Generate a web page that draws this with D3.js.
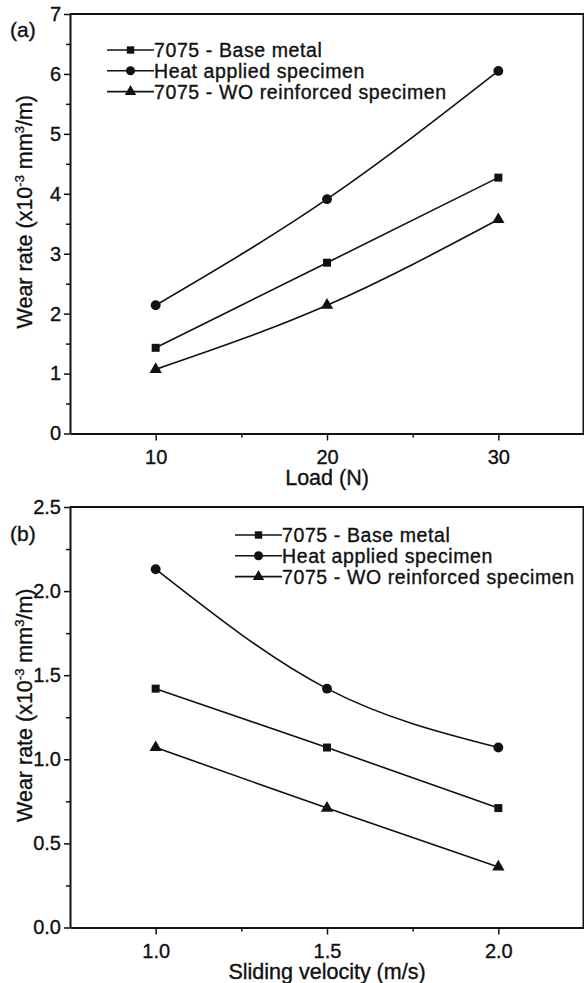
<!DOCTYPE html>
<html>
<head>
<meta charset="utf-8">
<script src="https://cdn.jsdelivr.net/npm/d3@7"></script>
<style>
  html, body { margin: 0; padding: 0; background: #fff; }
  svg { display: block; }
  text { font-family: "Liberation Sans", Arial, sans-serif; fill: #111; stroke: #111; stroke-width: 0.35px; }
</style>
</head>
<body>
<svg id="chart" width="584" height="983"></svg>
<script>
// ---------- data ----------
const seriesNames = ["7075 - Base metal", "Heat applied specimen", "7075 - WO reinforced specimen"];
const seriesSymbols = ["square", "circle", "triangle"];

// Panel (a): wear rate vs load
const loadValues = [10, 20, 30];
const loadBase = [1.43, 2.85, 4.27];
const loadHeat = [2.14, 3.91, 6.05];
const loadWO = [1.07, 2.14, 3.57];
const loadTicks = [10, 20, 30];
const loadMinorTicks = [15, 25];
const wearTicksA = [0, 1, 2, 3, 4, 5, 6, 7];
const wearMinorTicksA = [0.5, 1.5, 2.5, 3.5, 4.5, 5.5, 6.5];

// Panel (b): wear rate vs sliding velocity
const velocityValues = [1.0, 1.5, 2.0];
const velBase = [1.42, 1.07, 0.71];
const velHeat = [2.13, 1.42, 1.07];
const velWO = [1.07, 0.71, 0.36];
const velTicks = [1.0, 1.5, 2.0];
const velMinorTicks = [1.25, 1.75];
const wearTicksB = [0, 0.5, 1.0, 1.5, 2.0, 2.5];
const wearMinorTicksB = [0.25, 0.75, 1.25, 1.75, 2.25];

const yTitle = "Wear rate (x10";

// ---------- drawing ----------
const svg = d3.select("#chart");
const ink = "#111";

function symbolPath(kind, size) {
  const t = kind === "square" ? d3.symbolSquare : kind === "circle" ? d3.symbolCircle : d3.symbolTriangle;
  return d3.symbol().type(t).size(size)();
}
const symbolSizes = { square: 64, circle: 76, triangle: 66 };

function drawPanel(cfg) {
  const g = svg.append("g");
  const x = d3.scaleLinear().domain(cfg.xDomain).range([70, 584]);
  const y = d3.scaleLinear().domain(cfg.yDomain).range(cfg.yRange);
  const [yb, yt] = cfg.yRange;

  // frame (top & right)
  g.append("path")
    .attr("d", `M70,${yt}H${x.range()[1] - 0.5}V${yb}`)
    .attr("fill", "none").attr("stroke", ink).attr("stroke-width", 2);

  // x axis
  const xAxis = g.append("g").attr("transform", `translate(0,${yb})`)
    .call(d3.axisBottom(x).tickValues(cfg.xTicks).tickSize(7).tickSizeOuter(0).tickPadding(4).tickFormat(cfg.xFormat));
  g.append("g").attr("transform", `translate(0,${yb})`)
    .call(d3.axisBottom(x).tickValues(cfg.xMinor).tickSize(4).tickSizeOuter(0).tickFormat(""))
    .call(s => s.select(".domain").remove());
  xAxis.select(".domain").attr("stroke-width", 2).attr("stroke", ink);

  // y axis
  const yAxis = g.append("g").attr("transform", `translate(70,0)`)
    .call(d3.axisLeft(y).tickValues(cfg.yTicks).tickSize(6).tickSizeOuter(0).tickPadding(3).tickFormat(cfg.yFormat));
  g.append("g").attr("transform", `translate(70,0)`)
    .call(d3.axisLeft(y).tickValues(cfg.yMinor).tickSize(4).tickSizeOuter(0).tickFormat(""))
    .call(s => s.select(".domain").remove());
  yAxis.select(".domain").attr("stroke-width", 2).attr("stroke", ink);

  g.selectAll(".tick line").attr("stroke", ink).attr("stroke-width", 1.5);
  g.selectAll(".tick text").attr("font-size", 20).attr("fill", ink)
    .attr("font-family", "'Liberation Sans', Arial, sans-serif");
  xAxis.selectAll(".tick text").attr("dy", "0.95em");

  // axis titles
  g.append("text").attr("x", x(cfg.xMid)).attr("y", yb + 51)
    .attr("text-anchor", "middle").attr("font-size", 21.5).text(cfg.xTitle);

  const yt2 = g.append("text")
    .attr("transform", `translate(32,${(yb + yt) / 2 - 12}) rotate(-90)`)
    .attr("text-anchor", "middle").attr("font-size", 21.5);
  yt2.append("tspan").text(yTitle);
  yt2.append("tspan").attr("dy", -8).attr("font-size", 13).text("-3");
  yt2.append("tspan").attr("dy", 8).text(" mm");
  yt2.append("tspan").attr("dy", -8).attr("font-size", 13).text("3");
  yt2.append("tspan").attr("dy", 8).text("/m)");

  // panel label
  g.append("text").attr("x", 10).attr("y", cfg.labelY).attr("font-size", 21).text(cfg.label);

  // series
  const line = d3.line().x(d => x(d[0])).y(d => y(d[1])).curve(d3.curveNatural);
  cfg.series.forEach((vals, i) => {
    const pts = cfg.xValues.map((v, k) => [v, vals[k]]);
    g.append("path").datum(pts).attr("d", line)
      .attr("fill", "none").attr("stroke", ink).attr("stroke-width", 1.6);
    g.selectAll(null).data(pts).enter().append("path")
      .attr("transform", d => `translate(${x(d[0])},${y(d[1])})`)
      .attr("d", symbolPath(seriesSymbols[i], symbolSizes[seriesSymbols[i]]))
      .attr("fill", ink);
  });

  // legend
  const lg = g.append("g");
  seriesNames.forEach((name, i) => {
    const ly = cfg.legendY + i * 20.8;
    lg.append("line").attr("x1", cfg.legendX).attr("x2", cfg.legendX + 47)
      .attr("y1", ly).attr("y2", ly).attr("stroke", ink).attr("stroke-width", 1.6);
    lg.append("path").attr("transform", `translate(${cfg.legendX + 23.5},${ly})`)
      .attr("d", symbolPath(seriesSymbols[i], symbolSizes[seriesSymbols[i]] * 0.85)).attr("fill", ink);
    lg.append("text").attr("x", cfg.legendX + 47).attr("y", ly + 7)
      .attr("font-size", 19.5).attr("letter-spacing", 0.6).text(name);
  });
}

drawPanel({
  xDomain: [5, 35], yDomain: [0, 7], yRange: [433.5, 14],
  xTicks: loadTicks, xMinor: loadMinorTicks, xFormat: d3.format("d"),
  yTicks: wearTicksA, yMinor: wearMinorTicksA, yFormat: d3.format("d"),
  xValues: loadValues, series: [loadBase, loadHeat, loadWO],
  xTitle: "Load (N)", xMid: 20, label: "(a)", labelY: 37,
  legendX: 107, legendY: 50
});

drawPanel({
  xDomain: [0.75, 2.25], yDomain: [0, 2.5], yRange: [927.5, 507],
  xTicks: velTicks, xMinor: velMinorTicks, xFormat: d3.format(".1f"),
  yTicks: wearTicksB, yMinor: wearMinorTicksB, yFormat: d3.format(".1f"),
  xValues: velocityValues, series: [velBase, velHeat, velWO],
  xTitle: "Sliding velocity (m/s)", xMid: 1.5, label: "(b)", labelY: 541,
  legendX: 235, legendY: 535
});
</script>
</body>
</html>
